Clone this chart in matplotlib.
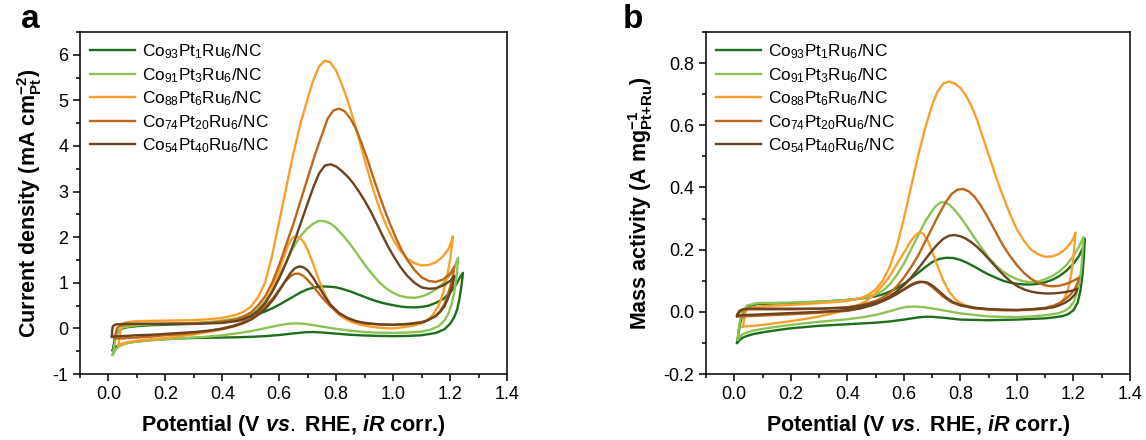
import matplotlib
matplotlib.use('Agg')
import matplotlib.pyplot as plt
from matplotlib.ticker import MultipleLocator

plt.rcParams['font.family'] = ['Liberation Sans', 'DejaVu Sans']
plt.rcParams['mathtext.fontset'] = 'custom'
plt.rcParams['mathtext.rm'] = 'Liberation Sans'
plt.rcParams['mathtext.bf'] = 'Liberation Sans:bold'
plt.rcParams['mathtext.it'] = 'Liberation Sans:italic:bold'

labels = [r'Co$_{\mathrm{93}}$Pt$_{\mathrm{1}}$Ru$_{\mathrm{6}}$/NC',
          r'Co$_{\mathrm{91}}$Pt$_{\mathrm{3}}$Ru$_{\mathrm{6}}$/NC',
          r'Co$_{\mathrm{88}}$Pt$_{\mathrm{6}}$Ru$_{\mathrm{6}}$/NC',
          r'Co$_{\mathrm{74}}$Pt$_{\mathrm{20}}$Ru$_{\mathrm{6}}$/NC',
          r'Co$_{\mathrm{54}}$Pt$_{\mathrm{40}}$Ru$_{\mathrm{6}}$/NC']
colors = ['#1c6e1c', '#8cc352', '#f9a02c', '#c0661a', '#6a4320']

# ---- panel a: current density (mA cm-2 Pt) ----
# forward (anodic) scans
a_fwd_x = [
    [0.015, 0.02, 0.03, 0.045, 0.06, 0.1, 0.15, 0.2, 0.25, 0.3, 0.35, 0.4, 0.45, 0.5, 0.525, 0.55, 0.575, 0.6, 0.625, 0.65, 0.675, 0.7, 0.725, 0.75, 0.775, 0.8, 0.825, 0.85, 0.875, 0.9, 0.925, 0.95, 0.975, 1.0, 1.025, 1.05, 1.075, 1.1, 1.125, 1.15, 1.175, 1.2, 1.22, 1.235, 1.245],
    [0.015, 0.02, 0.025, 0.035, 0.05, 0.1, 0.15, 0.2, 0.25, 0.3, 0.35, 0.4, 0.45, 0.5, 0.525, 0.55, 0.575, 0.6, 0.625, 0.65, 0.675, 0.7, 0.72, 0.74, 0.76, 0.78, 0.8, 0.825, 0.85, 0.875, 0.9, 0.925, 0.95, 0.975, 1.0, 1.025, 1.05, 1.075, 1.1, 1.125, 1.15, 1.175, 1.2, 1.215, 1.228],
    [0.035, 0.04, 0.045, 0.055, 0.07, 0.1, 0.15, 0.2, 0.25, 0.3, 0.35, 0.4, 0.45, 0.475, 0.5, 0.525, 0.55, 0.575, 0.6, 0.625, 0.65, 0.675, 0.7, 0.72, 0.74, 0.76, 0.78, 0.8, 0.82, 0.84, 0.86, 0.88, 0.9, 0.92, 0.94, 0.96, 0.98, 1.0, 1.025, 1.05, 1.075, 1.1, 1.125, 1.15, 1.175, 1.19, 1.2, 1.21],
    [0.02, 0.025, 0.03, 0.04, 0.06, 0.1, 0.15, 0.2, 0.25, 0.3, 0.35, 0.4, 0.45, 0.475, 0.5, 0.525, 0.55, 0.575, 0.6, 0.625, 0.65, 0.675, 0.7, 0.725, 0.75, 0.77, 0.79, 0.81, 0.83, 0.85, 0.87, 0.89, 0.91, 0.93, 0.95, 0.97, 0.99, 1.01, 1.03, 1.05, 1.075, 1.1, 1.125, 1.15, 1.175, 1.2, 1.215],
    [0.012, 0.013, 0.015, 0.02, 0.03, 0.06, 0.1, 0.15, 0.2, 0.25, 0.3, 0.35, 0.4, 0.45, 0.475, 0.5, 0.525, 0.55, 0.575, 0.6, 0.625, 0.65, 0.675, 0.7, 0.72, 0.74, 0.76, 0.78, 0.8, 0.82, 0.84, 0.86, 0.88, 0.9, 0.92, 0.94, 0.96, 0.98, 1.0, 1.025, 1.05, 1.075, 1.1, 1.125, 1.15, 1.175, 1.2, 1.215],
]
a_fwd_y = [
    [-0.48, -0.3, -0.1, -0.01, 0.02, 0.05, 0.07, 0.08, 0.09, 0.1, 0.12, 0.15, 0.2, 0.27, 0.31, 0.37, 0.44, 0.52, 0.61, 0.7, 0.79, 0.86, 0.9, 0.92, 0.915, 0.9, 0.86, 0.81, 0.75, 0.69, 0.63, 0.58, 0.54, 0.51, 0.48, 0.465, 0.46, 0.47, 0.5, 0.56, 0.64, 0.78, 0.95, 1.12, 1.22],
    [-0.58, -0.4, -0.2, -0.05, 0.02, 0.07, 0.09, 0.1, 0.11, 0.12, 0.14, 0.17, 0.22, 0.32, 0.42, 0.6, 0.85, 1.15, 1.47, 1.78, 2.03, 2.2, 2.3, 2.36, 2.35, 2.3, 2.2, 2.03, 1.84, 1.62, 1.4, 1.2, 1.02, 0.88, 0.78, 0.71, 0.68, 0.67, 0.7, 0.76, 0.86, 0.98, 1.17, 1.35, 1.55],
    [-0.37, -0.15, 0.05, 0.12, 0.14, 0.16, 0.165, 0.17, 0.175, 0.18, 0.2, 0.23, 0.3, 0.37, 0.47, 0.68, 1.0, 1.6, 2.35, 3.1, 3.85, 4.5, 5.05, 5.45, 5.75, 5.87, 5.83, 5.65, 5.35, 5.0, 4.6, 4.15, 3.7, 3.25, 2.85, 2.5, 2.2, 1.95, 1.7, 1.53, 1.43, 1.38, 1.39, 1.45, 1.58, 1.7, 1.82, 2.02],
    [-0.22, -0.12, 0.0, 0.06, 0.08, 0.1, 0.1, 0.1, 0.105, 0.11, 0.12, 0.15, 0.2, 0.26, 0.35, 0.5, 0.7, 1.0, 1.4, 1.85, 2.3, 2.8, 3.3, 3.8, 4.25, 4.6, 4.78, 4.82, 4.76, 4.6, 4.37, 4.05, 3.7, 3.32, 2.95, 2.6, 2.28, 1.98, 1.72, 1.5, 1.28, 1.12, 1.04, 1.02, 1.07, 1.2, 1.35],
    [-0.18, -0.05, 0.04, 0.07, 0.09, 0.1, 0.1, 0.1, 0.1, 0.1, 0.1, 0.11, 0.12, 0.16, 0.2, 0.27, 0.38, 0.55, 0.8, 1.1, 1.45, 1.85, 2.3, 2.75, 3.1, 3.4, 3.57, 3.6, 3.55, 3.45, 3.33, 3.18, 3.0, 2.8, 2.58, 2.33, 2.07, 1.82, 1.6, 1.35, 1.15, 1.0, 0.9, 0.87, 0.88, 0.94, 1.04, 1.15],
]
# backward (cathodic) scans
a_bwd_x = [
    [1.245, 1.243, 1.238, 1.232, 1.225, 1.215, 1.2, 1.18, 1.15, 1.1, 1.05, 1.0, 0.95, 0.9, 0.85, 0.8, 0.75, 0.72, 0.69, 0.65, 0.6, 0.55, 0.5, 0.45, 0.4, 0.35, 0.3, 0.25, 0.2, 0.15, 0.1, 0.07, 0.05, 0.035, 0.025, 0.015],
    [1.228, 1.226, 1.222, 1.215, 1.205, 1.195, 1.18, 1.16, 1.13, 1.1, 1.05, 1.0, 0.95, 0.9, 0.85, 0.8, 0.76, 0.72, 0.69, 0.66, 0.63, 0.6, 0.57, 0.54, 0.5, 0.45, 0.4, 0.35, 0.3, 0.25, 0.2, 0.15, 0.1, 0.07, 0.05, 0.035, 0.025, 0.015],
    [1.21, 1.205, 1.2, 1.19, 1.18, 1.17, 1.16, 1.14, 1.12, 1.1, 1.07, 1.04, 1.0, 0.96, 0.92, 0.88, 0.85, 0.82, 0.8, 0.78, 0.76, 0.74, 0.72, 0.7, 0.685, 0.67, 0.66, 0.65, 0.64, 0.63, 0.615, 0.6, 0.585, 0.57, 0.55, 0.53, 0.5, 0.47, 0.44, 0.4, 0.35, 0.3, 0.25, 0.2, 0.15, 0.1, 0.07, 0.05, 0.035],
    [1.215, 1.21, 1.2, 1.19, 1.18, 1.165, 1.15, 1.12, 1.1, 1.05, 1.0, 0.95, 0.9, 0.87, 0.84, 0.81, 0.78, 0.75, 0.72, 0.7, 0.685, 0.67, 0.655, 0.64, 0.62, 0.6, 0.58, 0.55, 0.52, 0.5, 0.47, 0.44, 0.4, 0.35, 0.3, 0.25, 0.2, 0.15, 0.1, 0.05, 0.03, 0.02],
    [1.215, 1.21, 1.2, 1.19, 1.18, 1.165, 1.15, 1.12, 1.1, 1.05, 1.0, 0.95, 0.9, 0.87, 0.84, 0.81, 0.78, 0.76, 0.74, 0.72, 0.7, 0.685, 0.67, 0.655, 0.64, 0.62, 0.6, 0.58, 0.55, 0.52, 0.5, 0.47, 0.44, 0.4, 0.35, 0.3, 0.25, 0.2, 0.15, 0.1, 0.05, 0.025, 0.012],
]
a_bwd_y = [
    [1.22, 1.08, 0.85, 0.62, 0.42, 0.25, 0.1, -0.02, -0.1, -0.15, -0.165, -0.17, -0.165, -0.155, -0.14, -0.115, -0.09, -0.08, -0.085, -0.11, -0.145, -0.17, -0.185, -0.195, -0.2, -0.205, -0.21, -0.22, -0.235, -0.255, -0.285, -0.31, -0.34, -0.37, -0.41, -0.48],
    [1.55, 1.35, 1.1, 0.8, 0.52, 0.33, 0.17, 0.05, -0.03, -0.07, -0.09, -0.1, -0.095, -0.08, -0.05, -0.01, 0.03, 0.07, 0.1, 0.11, 0.1, 0.07, 0.03, -0.01, -0.06, -0.11, -0.15, -0.18, -0.2, -0.22, -0.24, -0.26, -0.29, -0.32, -0.36, -0.4, -0.46, -0.58],
    [2.02, 1.75, 1.5, 1.15, 0.88, 0.67, 0.5, 0.3, 0.18, 0.11, 0.06, 0.03, 0.0, 0.01, 0.04, 0.09, 0.15, 0.25, 0.36, 0.52, 0.75, 1.05, 1.4, 1.72, 1.9, 2.0, 2.02, 2.0, 1.93, 1.8, 1.55, 1.28, 1.02, 0.8, 0.55, 0.37, 0.2, 0.1, 0.04, -0.02, -0.08, -0.13, -0.17, -0.21, -0.24, -0.27, -0.3, -0.33, -0.37],
    [1.35, 1.15, 0.9, 0.7, 0.53, 0.38, 0.28, 0.18, 0.14, 0.1, 0.08, 0.085, 0.11, 0.15, 0.22, 0.32, 0.48, 0.68, 0.92, 1.06, 1.15, 1.2, 1.2, 1.15, 1.02, 0.85, 0.68, 0.47, 0.3, 0.22, 0.13, 0.06, 0.0, -0.06, -0.1, -0.13, -0.15, -0.18, -0.2, -0.22, -0.22, -0.22],
    [1.15, 0.98, 0.78, 0.62, 0.48, 0.36, 0.27, 0.17, 0.13, 0.09, 0.08, 0.09, 0.12, 0.16, 0.23, 0.34, 0.52, 0.7, 0.9, 1.1, 1.27, 1.34, 1.36, 1.32, 1.22, 1.03, 0.83, 0.64, 0.42, 0.27, 0.19, 0.11, 0.05, -0.01, -0.05, -0.08, -0.1, -0.12, -0.14, -0.15, -0.17, -0.175, -0.18],
]

# ---- panel b: mass activity (A mg-1 Pt+Ru) ----
b_fwd_x = [
    [0.01, 0.015, 0.02, 0.03, 0.045, 0.08, 0.15, 0.2, 0.3, 0.4, 0.45, 0.5, 0.525, 0.55, 0.575, 0.6, 0.625, 0.65, 0.675, 0.7, 0.725, 0.75, 0.775, 0.8, 0.825, 0.85, 0.875, 0.9, 0.925, 0.95, 0.975, 1.0, 1.025, 1.05, 1.075, 1.1, 1.125, 1.15, 1.175, 1.2, 1.22, 1.235, 1.24],
    [0.012, 0.015, 0.02, 0.03, 0.045, 0.08, 0.15, 0.2, 0.3, 0.4, 0.45, 0.5, 0.525, 0.55, 0.575, 0.6, 0.625, 0.65, 0.675, 0.7, 0.715, 0.73, 0.745, 0.76, 0.775, 0.8, 0.825, 0.85, 0.875, 0.9, 0.925, 0.95, 0.975, 1.0, 1.025, 1.05, 1.075, 1.1, 1.125, 1.15, 1.175, 1.2, 1.22, 1.235],
    [0.03, 0.035, 0.04, 0.05, 0.07, 0.1, 0.15, 0.2, 0.25, 0.3, 0.35, 0.4, 0.45, 0.475, 0.5, 0.525, 0.55, 0.575, 0.6, 0.625, 0.65, 0.675, 0.7, 0.72, 0.74, 0.76, 0.78, 0.8, 0.82, 0.84, 0.86, 0.88, 0.9, 0.92, 0.94, 0.96, 0.98, 1.0, 1.025, 1.05, 1.075, 1.1, 1.125, 1.15, 1.175, 1.19, 1.2, 1.207],
    [0.01, 0.013, 0.02, 0.03, 0.05, 0.1, 0.2, 0.3, 0.4, 0.45, 0.5, 0.525, 0.55, 0.575, 0.6, 0.625, 0.65, 0.675, 0.7, 0.725, 0.75, 0.77, 0.79, 0.81, 0.83, 0.85, 0.87, 0.89, 0.91, 0.93, 0.95, 0.975, 1.0, 1.025, 1.05, 1.075, 1.1, 1.125, 1.15, 1.175, 1.2, 1.22],
    [0.01, 0.013, 0.02, 0.03, 0.05, 0.1, 0.2, 0.3, 0.4, 0.45, 0.5, 0.525, 0.55, 0.575, 0.6, 0.625, 0.65, 0.675, 0.7, 0.72, 0.74, 0.76, 0.78, 0.8, 0.82, 0.84, 0.86, 0.88, 0.9, 0.92, 0.94, 0.96, 0.98, 1.0, 1.025, 1.05, 1.075, 1.1, 1.125, 1.15, 1.175, 1.2, 1.213],
]
b_fwd_y = [
    [-0.1, -0.07, -0.04, -0.005, 0.015, 0.025, 0.027, 0.028, 0.032, 0.038, 0.043, 0.05, 0.056, 0.065, 0.076, 0.09, 0.107, 0.125, 0.143, 0.16, 0.17, 0.174, 0.173, 0.167, 0.157, 0.145, 0.132, 0.12, 0.11, 0.1, 0.094, 0.09, 0.088, 0.088, 0.09, 0.095, 0.103, 0.115, 0.132, 0.155, 0.18, 0.21, 0.235],
    [-0.09, -0.06, -0.03, 0.0, 0.02, 0.028, 0.029, 0.03, 0.033, 0.038, 0.043, 0.055, 0.068, 0.088, 0.118, 0.155, 0.2, 0.245, 0.29, 0.325, 0.342, 0.352, 0.352, 0.345, 0.332, 0.305, 0.272, 0.238, 0.205, 0.175, 0.15, 0.13, 0.115, 0.105, 0.098, 0.095, 0.097, 0.105, 0.115, 0.13, 0.15, 0.18, 0.21, 0.24],
    [-0.048, -0.025, 0.0, 0.012, 0.015, 0.018, 0.02, 0.022, 0.025, 0.028, 0.031, 0.035, 0.045, 0.055, 0.072, 0.1, 0.145, 0.21, 0.3, 0.4, 0.5, 0.59, 0.665, 0.71, 0.735, 0.74, 0.735, 0.72, 0.695, 0.66, 0.615, 0.56, 0.505, 0.45, 0.398, 0.35, 0.305, 0.265, 0.228, 0.2, 0.185, 0.177, 0.178, 0.187, 0.205, 0.222, 0.236, 0.255],
    [-0.015, -0.008, 0.0, 0.005, 0.008, 0.008, 0.008, 0.01, 0.015, 0.022, 0.035, 0.046, 0.06, 0.082, 0.11, 0.143, 0.18, 0.225, 0.27, 0.315, 0.355, 0.38, 0.393, 0.395, 0.387, 0.37, 0.345, 0.315, 0.282, 0.248, 0.215, 0.18, 0.15, 0.125, 0.106, 0.093, 0.085, 0.082, 0.084, 0.09, 0.1, 0.11],
    [-0.012, -0.004, 0.004, 0.008, 0.01, 0.01, 0.01, 0.01, 0.013, 0.02, 0.03, 0.038, 0.05, 0.066, 0.085, 0.11, 0.138, 0.168, 0.197, 0.218, 0.235, 0.245, 0.247, 0.243, 0.235, 0.223, 0.208, 0.19, 0.17, 0.15, 0.13, 0.112, 0.096, 0.083, 0.072, 0.065, 0.061, 0.059, 0.059, 0.061, 0.064, 0.069, 0.075],
]
b_bwd_x = [
    [1.24, 1.237, 1.232, 1.225, 1.215, 1.2, 1.18, 1.16, 1.13, 1.1, 1.0, 0.9, 0.8, 0.75, 0.7, 0.675, 0.65, 0.6, 0.55, 0.5, 0.4, 0.3, 0.2, 0.15, 0.1, 0.07, 0.05, 0.03, 0.02, 0.01],
    [1.235, 1.232, 1.228, 1.22, 1.21, 1.2, 1.185, 1.17, 1.15, 1.1, 1.05, 1.0, 0.9, 0.8, 0.75, 0.7, 0.67, 0.64, 0.61, 0.58, 0.55, 0.5, 0.45, 0.4, 0.3, 0.2, 0.15, 0.1, 0.07, 0.05, 0.03, 0.02, 0.012],
    [1.207, 1.204, 1.2, 1.195, 1.188, 1.18, 1.17, 1.16, 1.15, 1.13, 1.1, 1.05, 1.0, 0.95, 0.9, 0.85, 0.82, 0.8, 0.78, 0.76, 0.74, 0.72, 0.7, 0.685, 0.67, 0.66, 0.65, 0.64, 0.625, 0.61, 0.59, 0.57, 0.55, 0.53, 0.5, 0.47, 0.44, 0.4, 0.35, 0.3, 0.25, 0.2, 0.15, 0.1, 0.07, 0.05, 0.03],
    [1.22, 1.215, 1.21, 1.2, 1.19, 1.17, 1.15, 1.13, 1.1, 1.05, 1.0, 0.95, 0.9, 0.85, 0.8, 0.77, 0.74, 0.72, 0.7, 0.685, 0.67, 0.655, 0.64, 0.62, 0.6, 0.575, 0.55, 0.525, 0.5, 0.45, 0.4, 0.3, 0.2, 0.1, 0.05, 0.03, 0.01],
    [1.213, 1.21, 1.205, 1.195, 1.185, 1.17, 1.15, 1.13, 1.1, 1.05, 1.0, 0.95, 0.9, 0.85, 0.8, 0.77, 0.75, 0.73, 0.71, 0.695, 0.68, 0.665, 0.65, 0.63, 0.61, 0.59, 0.57, 0.55, 0.52, 0.5, 0.45, 0.4, 0.3, 0.2, 0.1, 0.05, 0.03, 0.01],
]
b_bwd_y = [
    [0.235, 0.18, 0.12, 0.07, 0.03, 0.005, -0.008, -0.014, -0.018, -0.021, -0.025, -0.027, -0.025, -0.02, -0.016, -0.016, -0.018, -0.025, -0.031, -0.035, -0.04, -0.045, -0.053, -0.059, -0.066, -0.071, -0.076, -0.083, -0.09, -0.1],
    [0.24, 0.19, 0.14, 0.09, 0.055, 0.03, 0.013, 0.004, -0.004, -0.011, -0.015, -0.017, -0.015, -0.005, 0.003, 0.011, 0.015, 0.017, 0.016, 0.01, 0.002, -0.01, -0.018, -0.024, -0.032, -0.042, -0.048, -0.055, -0.06, -0.065, -0.072, -0.08, -0.09],
    [0.255, 0.22, 0.18, 0.14, 0.1, 0.07, 0.048, 0.034, 0.025, 0.016, 0.01, 0.006, 0.005, 0.006, 0.008, 0.013, 0.02, 0.028, 0.042, 0.065, 0.1, 0.145, 0.195, 0.228, 0.25, 0.255, 0.253, 0.245, 0.228, 0.205, 0.175, 0.145, 0.115, 0.09, 0.06, 0.037, 0.022, 0.008, -0.005, -0.015, -0.023, -0.03, -0.036, -0.042, -0.045, -0.046, -0.048],
    [0.11, 0.095, 0.083, 0.068, 0.056, 0.04, 0.028, 0.02, 0.013, 0.008, 0.005, 0.005, 0.007, 0.011, 0.02, 0.03, 0.048, 0.064, 0.08, 0.09, 0.096, 0.097, 0.094, 0.085, 0.072, 0.057, 0.045, 0.034, 0.025, 0.012, 0.003, -0.003, -0.008, -0.012, -0.014, -0.015, -0.015],
    [0.075, 0.065, 0.056, 0.046, 0.038, 0.029, 0.021, 0.015, 0.011, 0.008, 0.006, 0.007, 0.009, 0.013, 0.022, 0.033, 0.046, 0.062, 0.078, 0.088, 0.095, 0.096, 0.094, 0.087, 0.077, 0.066, 0.055, 0.045, 0.033, 0.025, 0.012, 0.005, 0.0, -0.004, -0.008, -0.01, -0.011, -0.012],
]

fig = plt.figure(figsize=(11.46, 4.4), dpi=100)
ax_a = fig.add_axes([80 / 1146, 66 / 440, 427 / 1146, 342 / 440])
ax_b = fig.add_axes([706 / 1146, 66 / 440, 424 / 1146, 342 / 440])


def draw_panel(ax, fx, fy, bx, by):
    for i in range(len(labels)):
        ax.plot(fx[i] + bx[i], fy[i] + by[i], color=colors[i], lw=1.7,
                label=labels[i], solid_joinstyle='round')
    ax.set_xlim(-0.1, 1.4)
    ax.xaxis.set_major_locator(MultipleLocator(0.2))
    ax.xaxis.set_minor_locator(MultipleLocator(0.1))
    ax.tick_params(which='both', direction='out', top=False, right=False, labelsize=13, width=1.1)
    ax.tick_params(which='major', length=5)
    ax.tick_params(which='minor', length=3)
    for s in ax.spines.values():
        s.set_linewidth(1.1)
    ax.set_xlabel(r'Potential (V $\mathit{vs.}$ RHE, $\mathit{iR}$ corr.)', fontsize=15.5,
                  fontweight='bold', labelpad=7)
    ax.legend(loc='upper left', frameon=False, fontsize=12.4, handlelength=2.6,
              handletextpad=0.4, labelspacing=0.28, borderaxespad=0.2,
              bbox_to_anchor=(0.0, 1.0))


draw_panel(ax_a, a_fwd_x, a_fwd_y, a_bwd_x, a_bwd_y)
ax_a.set_ylim(-1, 6.5)
ax_a.set_yticks(range(-1, 7))
ax_a.set_yticklabels(['-1', '0', '1', '2', '3', '4', '5', '6'])
ax_a.yaxis.set_minor_locator(MultipleLocator(0.5))
ax_a.set_ylabel(r'Current density (mA $\mathbf{cm^{-2}_{Pt}}$)', fontsize=15.5,
                fontweight='bold', labelpad=6)

draw_panel(ax_b, b_fwd_x, b_fwd_y, b_bwd_x, b_bwd_y)
ax_b.set_ylim(-0.2, 0.9)
ax_b.set_yticks([-0.2, 0.0, 0.2, 0.4, 0.6, 0.8])
ax_b.set_yticklabels(['-0.2', '0.0', '0.2', '0.4', '0.6', '0.8'])
ax_b.yaxis.set_minor_locator(MultipleLocator(0.1))
ax_b.set_ylabel(r'Mass activity (A $\mathbf{mg^{-1}_{Pt{+}Ru}}$)', fontsize=15.5,
                fontweight='bold', labelpad=6)

fig.text(30 / 1146, 1 - 20 / 440, 'a', fontsize=24, fontweight='bold', ha='center', va='center')
fig.text(633 / 1146, 1 - 20 / 440, 'b', fontsize=24, fontweight='bold', ha='center', va='center')

fig.savefig('out.png', dpi=100)
